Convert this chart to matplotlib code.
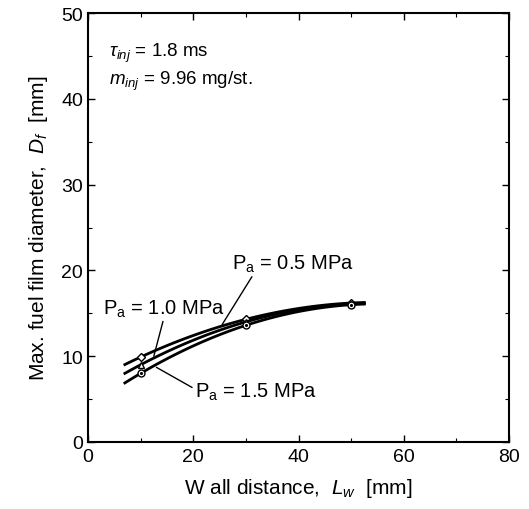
import numpy as np
import matplotlib.pyplot as plt

plt.rcParams['font.family'] = ['Liberation Sans', 'DejaVu Sans']
plt.rcParams['mathtext.fontset'] = 'custom'
plt.rcParams['mathtext.rm'] = 'Liberation Sans'
plt.rcParams['mathtext.it'] = 'Liberation Sans:italic'

# Wall distance [mm]
wall_dist = [10, 30, 50]
# Max. fuel film diameter [mm] per ambient pressure
d_05 = [9.9, 14.3, 16.2]
d_10 = [9.0, 14.0, 16.1]
d_15 = [8.0, 13.6, 16.0]

series = [
    (d_05, 'D', 4),
    (d_10, '^', 4),
    (d_15, 'o', 5),
]

fig = plt.figure(figsize=(5.29, 5.10), dpi=100)
ax = fig.add_axes([0.1664, 0.1314, 0.7958, 0.8411])

x_fit = np.linspace(7.0, 52.5, 100)
for ys, mk, ms in series:
    coef = np.polyfit(wall_dist, ys, 2)
    ax.plot(x_fit, np.polyval(coef, x_fit), color='black', lw=2.0)
    ax.plot(wall_dist, ys, linestyle='none', marker=mk, ms=ms,
            mfc='white', mec='black', mew=1.0)
    if mk == 'o':
        ax.plot(wall_dist, ys, linestyle='none', marker='.', ms=2.5, color='black')

ax.set_xlim(0, 80)
ax.set_ylim(0, 50)
ax.set_xticks([0, 20, 40, 60, 80])
ax.set_xticks([10, 30, 50, 70], minor=True)
ax.set_yticks([0, 10, 20, 30, 40, 50])
ax.set_yticks([5, 15, 25, 35, 45], minor=True)
ax.tick_params(which='both', direction='in', top=True, right=True, labelsize=14)
ax.tick_params(which='major', length=5, width=1)
ax.tick_params(which='minor', length=3, width=0.8)
ax.tick_params(axis='x', pad=4)
for s in ax.spines.values():
    s.set_linewidth(1.5)

ax.set_xlabel(r'W all distance,  $\mathit{L_w}$  [mm]', fontsize=15, labelpad=8)
ax.set_ylabel(r'Max. fuel film diameter,  $\mathit{D_f}$  [mm]', fontsize=15, labelpad=8)

ax.text(4, 45.0, r'$\tau_{inj}$ = 1.8 ms', fontsize=13.5)
ax.text(4, 41.7, r'$\mathit{m_{inj}}$ = 9.96 mg/st.', fontsize=13.5)

ax.annotate(r'P$_\mathrm{a}$ = 0.5 MPa', xy=(25.5, 13.7), xytext=(27.3, 20.2),
            fontsize=14.5, arrowprops=dict(arrowstyle='-', lw=1.0, color='black',
                                           shrinkA=0, shrinkB=0,
                                           relpos=(0.18, 0.0)))
ax.annotate(r'P$_\mathrm{a}$ = 1.0 MPa', xy=(12.5, 10.0), xytext=(2.8, 15.0),
            fontsize=14.5, arrowprops=dict(arrowstyle='-', lw=1.0, color='black',
                                           shrinkA=0, shrinkB=0,
                                           relpos=(0.5, 0.0)))
ax.annotate(r'P$_\mathrm{a}$ = 1.5 MPa', xy=(13.0, 8.7), xytext=(20.3, 5.3),
            fontsize=14.5, arrowprops=dict(arrowstyle='-', lw=1.0, color='black',
                                           shrinkA=0, shrinkB=0,
                                           relpos=(0.0, 0.6)))

fig.savefig('out.png', dpi=100)
